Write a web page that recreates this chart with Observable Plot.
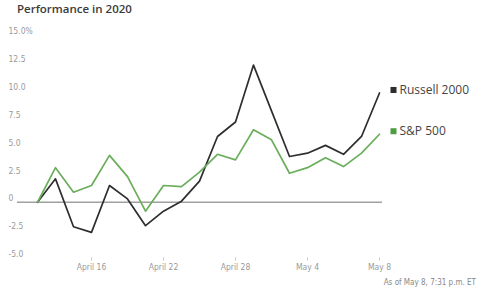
<!DOCTYPE html>
<html>
<head>
<meta charset="utf-8">
<script src="https://cdn.jsdelivr.net/npm/d3@7"></script>
<script src="https://cdn.jsdelivr.net/npm/@observablehq/plot@0.6"></script>
<style>
  html, body { margin: 0; padding: 0; background: #fff; }
  body { width: 480px; height: 291px; overflow: hidden; position: relative; }
  #title {
    height: 20px; box-sizing: border-box; padding: 2px 0 0 17px;
    font: 600 11.5px "Open Sans", "Roboto", sans-serif; color: #3a3a3a; line-height: 14px;
  }
  #chart svg { display: block; }
  #caption {
    height: 14px; text-align: right; padding-right: 4px;
    font: 8px "Liberation Sans Narrow", "DejaVu Sans Condensed", sans-serif; color: #888; line-height: 12px;
  }
</style>
</head>
<body>
<div id="title">Performance in 2020</div>
<div id="chart"></div>
<div id="caption">As of May 8, 7:31 p.m. ET</div>
<script>
// Trading days shown on the x axis
const dates = [
  "2020-04-13", "2020-04-14", "2020-04-15", "2020-04-16", "2020-04-17",
  "2020-04-20", "2020-04-21", "2020-04-22", "2020-04-23", "2020-04-24",
  "2020-04-27", "2020-04-28", "2020-04-29", "2020-04-30", "2020-05-01",
  "2020-05-04", "2020-05-05", "2020-05-06", "2020-05-07", "2020-05-08"
];

// Cumulative performance, percent
const russell2000 = [0, 2.1, -2.2, -2.7, 1.5, 0.3, -2.1, -0.8, 0.1, 1.9,
  5.9, 7.2, 12.3, 8.2, 4.1, 4.4, 5.1, 4.3, 5.9, 9.8];
const sp500 = [0, 3.1, 0.9, 1.5, 4.2, 2.3, -0.8, 1.5, 1.4, 2.7,
  4.3, 3.8, 6.5, 5.6, 2.6, 3.1, 4.0, 3.2, 4.4, 6.1];

const seriesNames = ["Russell 2000", "S&P 500"];
const seriesColors = ["#2e2e2e", "#6aae5c"];
const legendColors = ["#2e2e2e", "#4f9d42"];

const yTicks = [-5, -2.5, 0, 2.5, 5, 7.5, 10, 12.5, 15];
const yTickLabels = ["-5.0", "-2.5", "0", "2.5", "5.0", "7.5", "10.0", "12.5", "15.0%"];

const xTicks = ["2020-04-16", "2020-04-22", "2020-04-28", "2020-05-04", "2020-05-08"];
const xTickLabels = ["April 16", "April 22", "April 28", "May 4", "May 8"];

const rows = [
  ...dates.map((date, i) => ({date, value: russell2000[i], series: seriesNames[0]})),
  ...dates.map((date, i) => ({date, value: sp500[i], series: seriesNames[1]}))
];
const lastRows = rows.filter(d => d.date === dates[dates.length - 1]);

const tickFont = `"Liberation Sans Narrow", "DejaVu Sans Condensed", sans-serif`;

const chart = Plot.plot({
  width: 480,
  height: 257,
  marginLeft: 17,
  marginRight: 98,
  marginTop: 14.5,
  marginBottom: 19.5,
  style: {fontFamily: tickFont, fontSize: "8.5px", color: "#9a9a9a", background: "#fff"},
  x: {type: "point", domain: dates, range: [37, 379], padding: 0},
  y: {domain: [-5, 15]},
  color: {domain: seriesNames, range: seriesColors},
  marks: [
    Plot.ruleY(yTicks.filter(t => t !== 0), {x1: () => dates[0], y: d => d, stroke: "#e4e4e4", strokeWidth: 1}),
    Plot.ruleY([0], {stroke: "#a0a0a0", strokeWidth: 1.6}),
    Plot.axisY({
      ticks: yTicks, tickSize: 0, textAnchor: "start", dx: 0, dy: -3.5,
      tickFormat: d => yTickLabels[yTicks.indexOf(d)], label: null, fill: "#9a9a9a"
    }),
    Plot.axisX({
      ticks: xTicks, tickSize: 3, tickPadding: 3, stroke: "#c8c8c8",
      tickFormat: d => xTickLabels[xTicks.indexOf(d)], label: null, fill: "#9a9a9a"
    }),
    Plot.line(rows, {x: "date", y: "value", stroke: "series", strokeWidth: 1.7, curve: "linear"}),
    Plot.dot(lastRows, {
      x: "date", y: "value", symbol: "square", r: 3.4, dx: 14, dy: -3,
      fill: d => legendColors[seriesNames.indexOf(d.series)], stroke: null
    }),
    Plot.text(lastRows, {
      x: "date", y: "value", text: "series", dx: 20, dy: -3, textAnchor: "start",
      fill: "#444", fontSize: 12, fontFamily: `"Open Sans", "Roboto", sans-serif`
    })
  ]
});
document.getElementById("chart").appendChild(chart);
</script>
</body>
</html>
